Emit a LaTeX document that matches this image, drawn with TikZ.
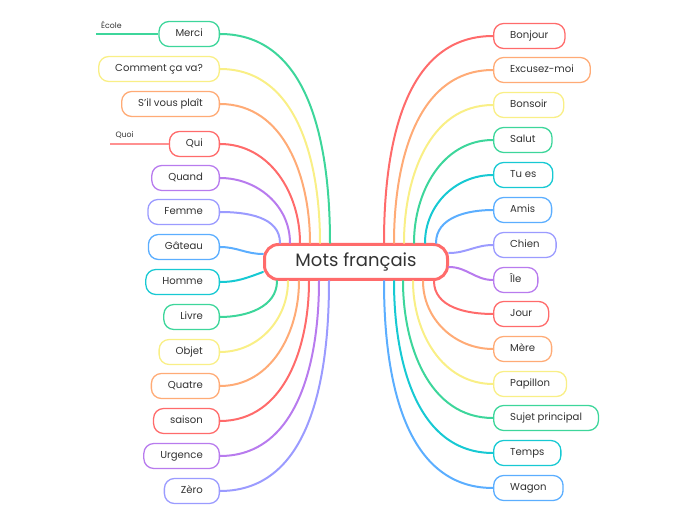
\documentclass[tikz,border=0pt]{standalone}
\usepackage{fontspec}
\setmainfont{Poppins}
\definecolor{MMred}{HTML}{FF6B6B}
\definecolor{MMorange}{HTML}{FFAB76}
\definecolor{MMyellow}{HTML}{F9EF86}
\definecolor{MMgreen}{HTML}{3DD69B}
\definecolor{MMcyan}{HTML}{17C9D3}
\definecolor{MMblue}{HTML}{5BAEFF}
\definecolor{MMlavender}{HTML}{9B9BFF}
\definecolor{MMpurple}{HTML}{B87BEE}
\definecolor{MMtext}{HTML}{333333}
\usetikzlibrary{positioning}

\tikzset{
   topic/.style={draw=#1, rounded corners=10pt, line width=1.3pt, fill=white,
      minimum height=25pt, inner xsep=16.5pt, text height=8pt, text depth=2.5pt,
      font=\fontsize{10.1}{12}\selectfont, text=MMtext},
   branch/.style={draw=#1, line width=2pt, line cap=round},
   floating/.style={font=\fontsize{7.8}{9}\selectfont, text=MMtext, inner sep=1pt}
}

\begin{document}
\begin{tikzpicture}[x=1pt, y=1pt]
   \useasboundingbox (0,0) rectangle (697,520);
   % Central topic
   \node[draw=MMred, line width=3pt, rounded corners=14pt, fill=white,
      minimum width=183pt, minimum height=35pt, text=MMtext,
      font=\fontsize{18}{20}\selectfont] (root) at (356,258) {Mots français};

   % Left topics (east side aligned)
   \node[topic=MMgreen, anchor=east] (merci) at (220,486) {Merci};
   \node[topic=MMyellow, anchor=east] (comment) at (220,451) {Comment ça va?};
   \node[topic=MMorange, anchor=east] (silvous) at (220,416) {S’il vous plaît};
   \node[topic=MMred, anchor=east] (qui) at (220,376) {Qui};
   \node[topic=MMpurple, anchor=east] (quand) at (220,342) {Quand};
   \node[topic=MMlavender, anchor=east] (femme) at (220,308) {Femme};
   \node[topic=MMblue, anchor=east] (gateau) at (220,273) {Gâteau};
   \node[topic=MMcyan, anchor=east] (homme) at (220,238) {Homme};
   \node[topic=MMgreen, anchor=east] (livre) at (220,203) {Livre};
   \node[topic=MMyellow, anchor=east] (objet) at (220,168) {Objet};
   \node[topic=MMorange, anchor=east] (quatre) at (220,134) {Quatre};
   \node[topic=MMred, anchor=east] (saison) at (220,99) {saison};
   \node[topic=MMpurple, anchor=east] (urgence) at (220,64) {Urgence};
   \node[topic=MMlavender, anchor=east] (zero) at (220,29) {Zèro};

   % Right topics (west side aligned)
   \node[topic=MMred, anchor=west] (bonjour) at (493,484) {Bonjour};
   \node[topic=MMorange, anchor=west] (excusez) at (493,450) {Excusez-moi};
   \node[topic=MMyellow, anchor=west] (bonsoir) at (493,415) {Bonsoir};
   \node[topic=MMgreen, anchor=west] (salut) at (493,380) {Salut};
   \node[topic=MMcyan, anchor=west] (tues) at (493,345) {Tu es};
   \node[topic=MMblue, anchor=west] (amis) at (493,310) {Amis};
   \node[topic=MMlavender, anchor=west] (chien) at (493,275) {Chien};
   \node[topic=MMpurple, anchor=west] (ile) at (493,240) {Île};
   \node[topic=MMred, anchor=west] (jour) at (493,206) {Jour};
   \node[topic=MMorange, anchor=west] (mere) at (493,171) {Mère};
   \node[topic=MMyellow, anchor=west] (papillon) at (493,136) {Papillon};
   \node[topic=MMgreen, anchor=west] (sujet) at (493,102) {Sujet principal};
   \node[topic=MMcyan, anchor=west] (temps) at (493,67) {Temps};
   \node[topic=MMblue, anchor=west] (wagon) at (493,32) {Wagon};

   % Left branches, upper half
   \draw[branch=MMgreen] ([xshift=-26pt]root.north) to[out=90, in=0] (merci.east);
   \draw[branch=MMyellow] ([xshift=-36pt]root.north) to[out=90, in=0] (comment.east);
   \draw[branch=MMorange] ([xshift=-46pt]root.north) to[out=90, in=0] (silvous.east);
   \draw[branch=MMred] ([xshift=-56pt]root.north) to[out=90, in=0] (qui.east);
   \draw[branch=MMpurple] ([xshift=-66pt]root.north) to[out=90, in=0] (quand.east);
   \draw[branch=MMlavender] ([xshift=-76pt]root.north) to[out=90, in=0] (femme.east);
   \draw[branch=MMblue] ([yshift=8pt]root.west) to[out=180, in=0] (gateau.east);
   \draw[branch=MMcyan] ([yshift=-10pt]root.west) to[out=200, in=0] (homme.east);
   % Left branches, lower half
   \draw[branch=MMgreen] ([xshift=-79pt]root.south) to[out=-90, in=0] (livre.east);
   \draw[branch=MMyellow] ([xshift=-68pt]root.south) to[out=-90, in=0] (objet.east);
   \draw[branch=MMorange] ([xshift=-57pt]root.south) to[out=-90, in=0] (quatre.east);
   \draw[branch=MMred] ([xshift=-47pt]root.south) to[out=-90, in=0] (saison.east);
   \draw[branch=MMpurple] ([xshift=-37pt]root.south) to[out=-90, in=0] (urgence.east);
   \draw[branch=MMlavender] ([xshift=-27pt]root.south) to[out=-90, in=0] (zero.east);

   % Right branches, upper half
   \draw[branch=MMred] ([xshift=28pt]root.north) to[out=90, in=180] (bonjour.west);
   \draw[branch=MMorange] ([xshift=38pt]root.north) to[out=90, in=180] (excusez.west);
   \draw[branch=MMyellow] ([xshift=48pt]root.north) to[out=90, in=180] (bonsoir.west);
   \draw[branch=MMgreen] ([xshift=58pt]root.north) to[out=90, in=180] (salut.west);
   \draw[branch=MMcyan] ([xshift=69pt]root.north) to[out=90, in=180] (tues.west);
   \draw[branch=MMblue] ([xshift=80pt]root.north) to[out=90, in=180] (amis.west);
   \draw[branch=MMlavender] ([yshift=9pt]root.east) to[out=0, in=180] (chien.west);
   \draw[branch=MMpurple] ([yshift=-5pt]root.east) to[out=0, in=180] (ile.west);
   % Right branches, lower half
   \draw[branch=MMred] ([xshift=78pt]root.south) to[out=-90, in=180] (jour.west);
   \draw[branch=MMorange] ([xshift=67pt]root.south) to[out=-90, in=180] (mere.west);
   \draw[branch=MMyellow] ([xshift=57pt]root.south) to[out=-90, in=180] (papillon.west);
   \draw[branch=MMgreen] ([xshift=47pt]root.south) to[out=-90, in=180] (sujet.west);
   \draw[branch=MMcyan] ([xshift=38pt]root.south) to[out=-90, in=180] (temps.west);
   \draw[branch=MMblue] ([xshift=28pt]root.south) to[out=-90, in=180] (wagon.west);

   % Floating topics
   \draw[MMgreen, line width=1.5pt] (merci.west) -- ++(-62,0) coordinate (ecole)
      node[floating, above right, xshift=3pt, yshift=4pt] {École};
   \draw[MMred!75, line width=1.5pt] (qui.west) -- ++(-59,0) coordinate (quoi)
      node[floating, above right, xshift=4pt, yshift=4pt] {Quoi};
\end{tikzpicture}
\end{document}
